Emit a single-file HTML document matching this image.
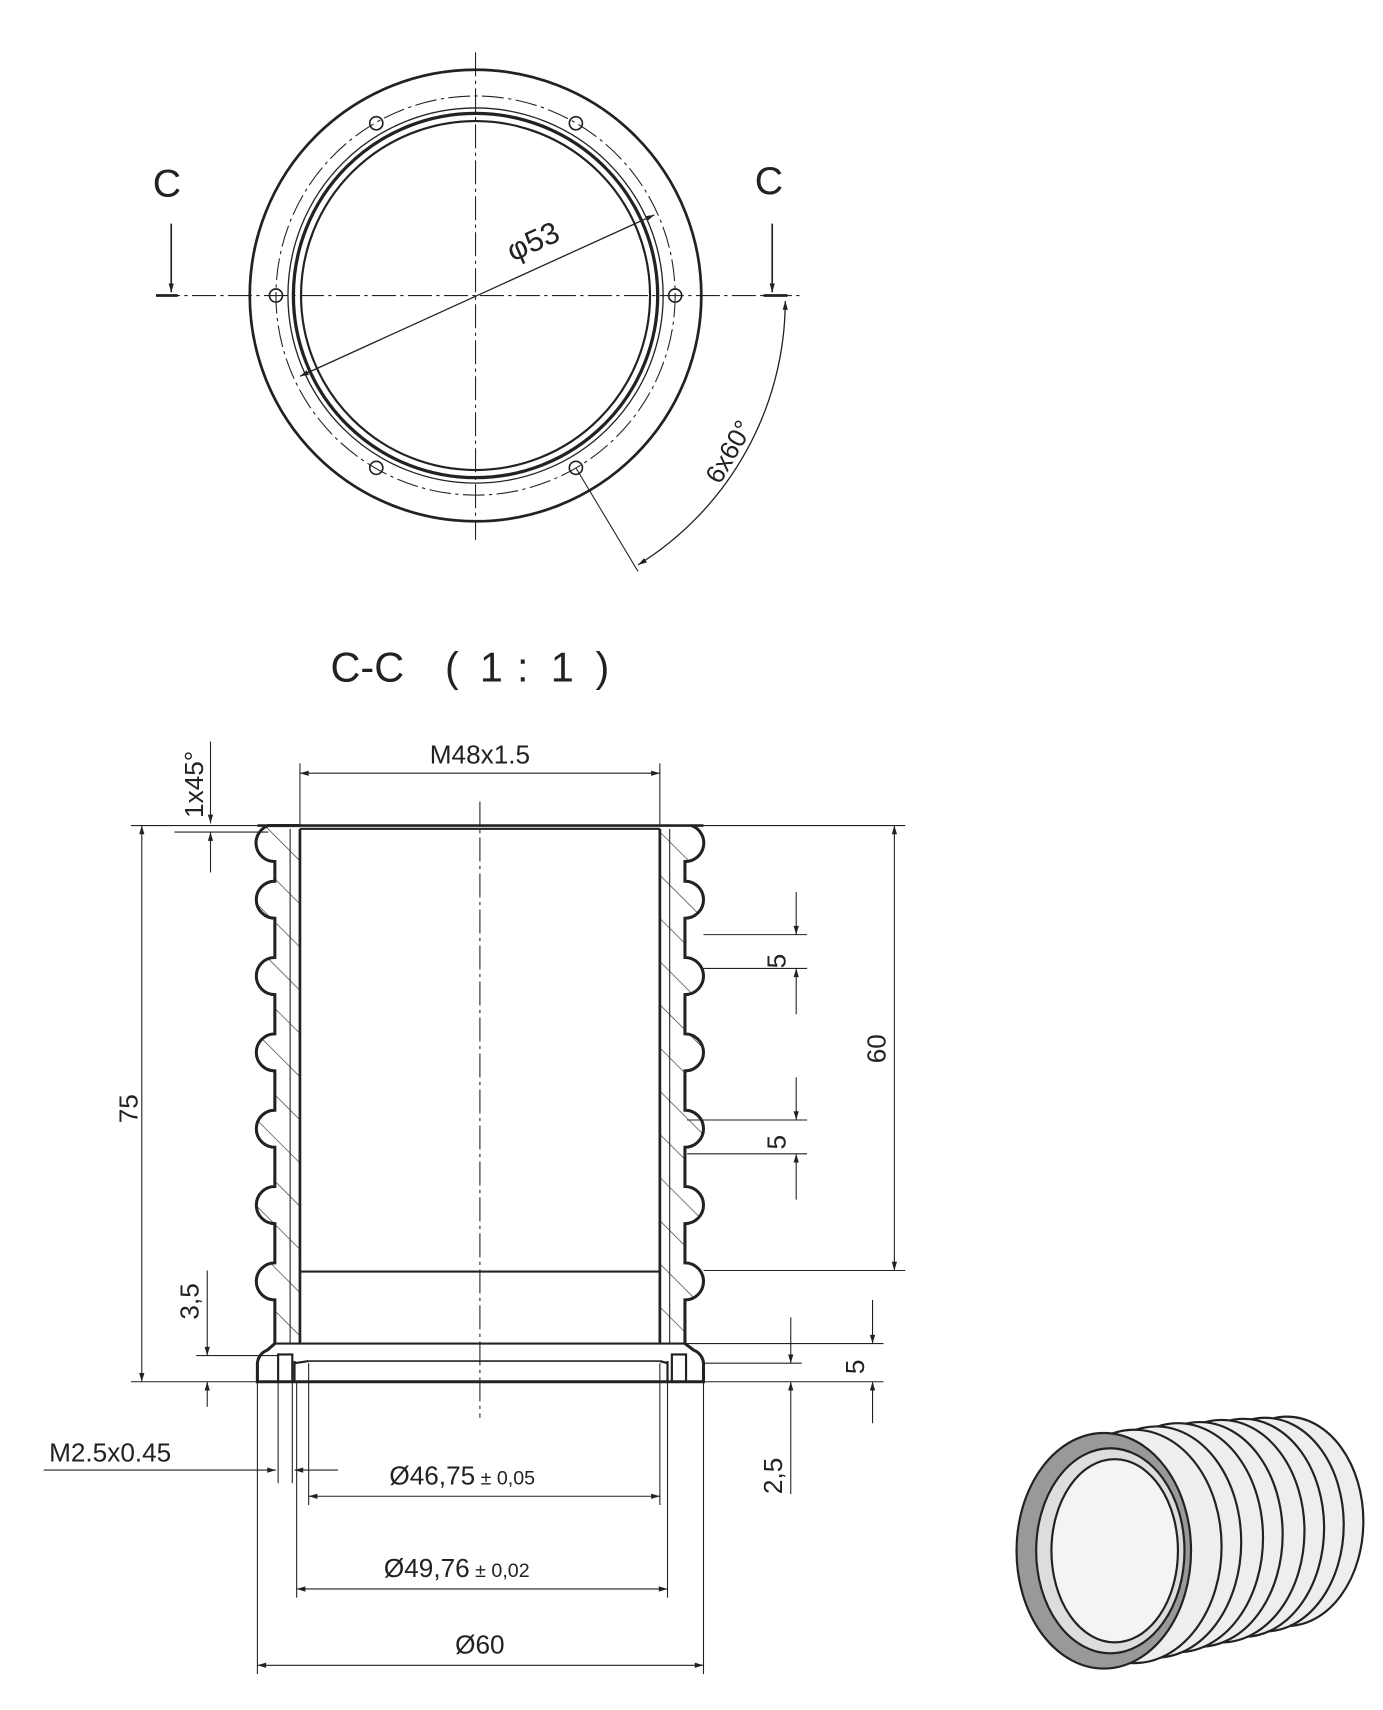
<!DOCTYPE html>
<html><head><meta charset="utf-8"><style>
html,body{margin:0;padding:0;background:#fff;}
svg{display:block}
text{font-family:"Liberation Sans",sans-serif;fill:#222}
</style></head><body>
<svg width="1383" height="1710" viewBox="0 0 1268 1568" preserveAspectRatio="none" xmlns="http://www.w3.org/2000/svg">
<defs>
<marker id="a" viewBox="0 0 10 10" refX="10" refY="5" markerWidth="12" markerHeight="8" orient="auto-start-reverse" markerUnits="userSpaceOnUse"><path d="M0,2 L10,5 L0,8 z" fill="#222"/></marker>
<pattern id="h" width="28" height="28" patternUnits="userSpaceOnUse" patternTransform="rotate(-45)"><line x1="0" y1="0" x2="0" y2="28" stroke="#333" stroke-width="1.2"/></pattern>
</defs>
<g stroke="#222" fill="none">
<circle cx="436" cy="271" r="207" stroke-width="2.5"/>
<circle cx="436" cy="271" r="183" stroke-width="1" stroke-dasharray="20 4 3 4"/>
<circle cx="436" cy="271" r="172" stroke-width="1.2"/>
<circle cx="436" cy="271" r="167" stroke-width="3"/>
<circle cx="436" cy="271" r="160" stroke-width="2"/>
<g stroke-width="1.5">
<circle cx="253" cy="271" r="6"/><circle cx="619" cy="271" r="6"/>
<circle cx="345" cy="113" r="6"/><circle cx="528" cy="113" r="6"/>
<circle cx="345" cy="429" r="6"/><circle cx="528" cy="429" r="6"/>
</g>
<line x1="436" y1="48" x2="436" y2="495" stroke-width="1" stroke-dasharray="22 4 3 4"/>
<line x1="143" y1="271" x2="735" y2="271" stroke-width="1" stroke-dasharray="22 4 3 4"/>
<line x1="143" y1="271" x2="163" y2="271" stroke-width="2.5"/>
<line x1="700" y1="271" x2="722" y2="271" stroke-width="2.5"/>
<line x1="157" y1="205" x2="157" y2="268" stroke-width="1.5" marker-end="url(#a)"/>
<line x1="708" y1="205" x2="708" y2="268" stroke-width="1.5" marker-end="url(#a)"/>
<line x1="275" y1="345" x2="600" y2="197" stroke-width="1.2" marker-start="url(#a)" marker-end="url(#a)"/>
<line x1="528" y1="429" x2="585" y2="524" stroke-width="1"/>
<path d="M720,276 A286,286 0 0 1 585,518" stroke-width="1.2" marker-start="url(#a)" marker-end="url(#a)"/>
<line x1="440" y1="735" x2="440" y2="1300" stroke-width="1" stroke-dasharray="22 4 3 4"/>
<path d="M275,757 L246,757 A17,17 0 0 0 252,790 L252,808 A17,17 0 0 0 252,842 L252,878 A17,17 0 0 0 252,912 L252,948 A17,17 0 0 0 252,982 L252,1018 A17,17 0 0 0 252,1052 L252,1088 A17,17 0 0 0 252,1122 L252,1158 A17,17 0 0 0 252,1192 L252,1232 L275,1232 Z" fill="url(#h)" stroke="none"/>
<path d="M275,757 L246,757 A17,17 0 0 0 252,790 L252,808 A17,17 0 0 0 252,842 L252,878 A17,17 0 0 0 252,912 L252,948 A17,17 0 0 0 252,982 L252,1018 A17,17 0 0 0 252,1052 L252,1088 A17,17 0 0 0 252,1122 L252,1158 A17,17 0 0 0 252,1192 L252,1232" stroke-width="2.8"/>
<path d="M605,757 L634,757 A17,17 0 0 1 628,790 L628,808 A17,17 0 0 1 628,842 L628,878 A17,17 0 0 1 628,912 L628,948 A17,17 0 0 1 628,982 L628,1018 A17,17 0 0 1 628,1052 L628,1088 A17,17 0 0 1 628,1122 L628,1158 A17,17 0 0 1 628,1192 L628,1232 L605,1232 Z" fill="url(#h)" stroke="none"/>
<path d="M634,757 A17,17 0 0 1 628,790 L628,808 A17,17 0 0 1 628,842 L628,878 A17,17 0 0 1 628,912 L628,948 A17,17 0 0 1 628,982 L628,1018 A17,17 0 0 1 628,1052 L628,1088 A17,17 0 0 1 628,1122 L628,1158 A17,17 0 0 1 628,1192 L628,1232" stroke-width="2.8"/>
<path d="M252,1232 L245,1238 A14,14 0 0 0 236,1252 L236,1267 L645,1267 L645,1252 A14,14 0 0 0 636,1238 L628,1232" stroke-width="2.8"/>
<line x1="236" y1="757" x2="645" y2="757" stroke-width="2.5"/>
<line x1="275" y1="760" x2="605" y2="760" stroke-width="2"/>
<line x1="275" y1="760" x2="275" y2="1232" stroke-width="2.5"/>
<line x1="605" y1="760" x2="605" y2="1232" stroke-width="2.5"/>
<line x1="266" y1="760" x2="266" y2="1232" stroke-width="1"/>
<line x1="614" y1="760" x2="614" y2="1232" stroke-width="1"/>
<line x1="275" y1="1166" x2="605" y2="1166" stroke-width="2"/>
<line x1="252" y1="1232" x2="628" y2="1232" stroke-width="2"/>
<line x1="283" y1="1248" x2="605" y2="1248" stroke-width="1.5"/>
<path d="M270,1248 L270,1267 M612,1248 L612,1267 M270,1250 L283,1248 M612,1250 L605,1248" stroke-width="2"/>
<rect x="255" y="1242" width="13" height="25" stroke-width="2"/>
<rect x="616" y="1242" width="13" height="25" stroke-width="2"/>
<g stroke-width="1">
<line x1="275" y1="700" x2="275" y2="757"/><line x1="605" y1="700" x2="605" y2="757"/>
<line x1="275" y1="709" x2="605" y2="709" marker-start="url(#a)" marker-end="url(#a)"/>
<line x1="193" y1="680" x2="193" y2="755" marker-end="url(#a)"/>
<line x1="193" y1="800" x2="193" y2="763" marker-end="url(#a)"/>
<line x1="160" y1="763" x2="246" y2="763"/>
<line x1="120" y1="757" x2="236" y2="757"/><line x1="120" y1="1267" x2="236" y2="1267"/>
<line x1="130" y1="757" x2="130" y2="1267" marker-start="url(#a)" marker-end="url(#a)"/>
<line x1="645" y1="757" x2="830" y2="757"/><line x1="645" y1="1165" x2="830" y2="1165"/>
<line x1="820" y1="757" x2="820" y2="1165" marker-start="url(#a)" marker-end="url(#a)"/>
<line x1="645" y1="857" x2="740" y2="857"/><line x1="645" y1="888" x2="740" y2="888"/>
<line x1="730" y1="818" x2="730" y2="857" marker-end="url(#a)"/><line x1="730" y1="930" x2="730" y2="888" marker-end="url(#a)"/>
<line x1="630" y1="1027" x2="740" y2="1027"/><line x1="630" y1="1058" x2="740" y2="1058"/>
<line x1="730" y1="988" x2="730" y2="1027" marker-end="url(#a)"/><line x1="730" y1="1100" x2="730" y2="1058" marker-end="url(#a)"/>
<line x1="180" y1="1243" x2="255" y2="1243"/>
<line x1="190" y1="1165" x2="190" y2="1243" marker-end="url(#a)"/><line x1="190" y1="1290" x2="190" y2="1267" marker-end="url(#a)"/>
<line x1="628" y1="1232" x2="810" y2="1232"/><line x1="645" y1="1250" x2="735" y2="1250"/><line x1="645" y1="1267" x2="810" y2="1267"/>
<line x1="800" y1="1192" x2="800" y2="1232" marker-end="url(#a)"/><line x1="800" y1="1305" x2="800" y2="1267" marker-end="url(#a)"/>
<line x1="725" y1="1208" x2="725" y2="1250" marker-end="url(#a)"/><line x1="725" y1="1370" x2="725" y2="1267" marker-end="url(#a)"/>
<line x1="236" y1="1267" x2="236" y2="1535"/><line x1="645" y1="1267" x2="645" y2="1535"/>
<line x1="272" y1="1267" x2="272" y2="1465"/><line x1="612" y1="1267" x2="612" y2="1465"/>
<line x1="283" y1="1250" x2="283" y2="1380"/><line x1="605" y1="1250" x2="605" y2="1380"/>
<line x1="255" y1="1267" x2="255" y2="1360"/><line x1="268" y1="1267" x2="268" y2="1360"/>
<line x1="40" y1="1348" x2="253" y2="1348" marker-end="url(#a)"/>
<line x1="310" y1="1348" x2="270" y2="1348" marker-end="url(#a)"/>
<line x1="283" y1="1372" x2="605" y2="1372" marker-start="url(#a)" marker-end="url(#a)"/>
<line x1="272" y1="1457" x2="612" y2="1457" marker-start="url(#a)" marker-end="url(#a)"/>
<line x1="236" y1="1527" x2="645" y2="1527" marker-start="url(#a)" marker-end="url(#a)"/>
</g>
<g stroke-width="2">
<ellipse cx="1180" cy="1395" rx="70" ry="96" fill="#eee"/>
<ellipse cx="1160" cy="1398" rx="72" ry="98" fill="#eee"/>
<ellipse cx="1140" cy="1401" rx="74" ry="100" fill="#eee"/>
<ellipse cx="1120" cy="1404" rx="76" ry="102" fill="#eee"/>
<ellipse cx="1100" cy="1407" rx="76" ry="103" fill="#eee"/>
<ellipse cx="1080" cy="1410" rx="78" ry="105" fill="#eee"/>
<ellipse cx="1060" cy="1414" rx="78" ry="106" fill="#eee"/>
<ellipse cx="1040" cy="1418" rx="80" ry="107" fill="#eee"/>
<ellipse cx="1012" cy="1422" rx="80" ry="108" fill="#999"/>
<ellipse cx="1018" cy="1422" rx="68" ry="94" fill="#ddd"/>
<ellipse cx="1022" cy="1422" rx="58" ry="84" fill="#f4f4f4"/>
</g>
</g>
<g font-size="36">
<text x="140" y="180">C</text><text x="692" y="178">C</text>
</g>
<text x="0" y="0" font-size="28" transform="translate(470,240) rotate(-24)">φ53</text>
<text x="0" y="0" font-size="24" transform="translate(660,445) rotate(-60)">6x60°</text>
<g font-size="38">
<text x="303" y="625">C-C</text>
<text x="408" y="625">(</text>
<text x="440" y="625">1</text>
<text x="474" y="625">:</text>
<text x="505" y="625">1</text>
<text x="546" y="625">)</text>
</g>
<g font-size="24">
<text x="440" y="700" text-anchor="middle">M48x1.5</text>
<text transform="translate(186,750) rotate(-90)">1x45°</text>
<text transform="translate(126,1030) rotate(-90)">75</text>
<text transform="translate(812,975) rotate(-90)">60</text>
<text transform="translate(720,888) rotate(-90)">5</text>
<text transform="translate(720,1054) rotate(-90)">5</text>
<text transform="translate(182,1210) rotate(-90)">3,5</text>
<text transform="translate(792,1260) rotate(-90)">5</text>
<text transform="translate(717,1370) rotate(-90)">2,5</text>
<text x="45" y="1340">M2.5x0.45</text>
<text x="357" y="1361">Ø46,75<tspan font-size="18"> ± 0,05</tspan></text>
<text x="352" y="1446">Ø49,76<tspan font-size="18"> ± 0,02</tspan></text>
<text x="440" y="1516" text-anchor="middle">Ø60</text>
</g>
</svg>
</body></html>
